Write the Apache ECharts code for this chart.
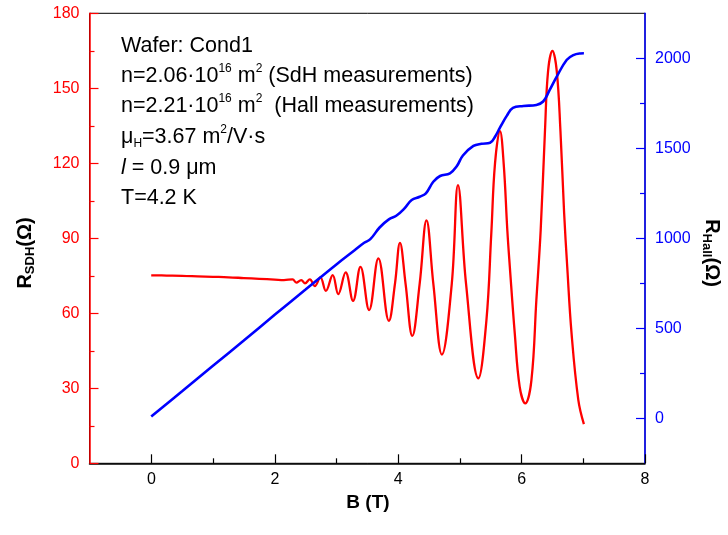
<!DOCTYPE html>
<html>
<head>
<meta charset="utf-8">
<script src="https://cdn.jsdelivr.net/npm/echarts@6/dist/echarts.min.js"></script>
<style>
html, body { margin: 0; padding: 0; background: #fff; }
#chart { width: 728px; height: 535px; }
</style>
</head>
<body>
<div id="chart"></div>
<script>
// SdH resistance (Ohm) vs B (T)
const sdhB = [0, 0.25, 0.5, 0.75, 1.0, 1.25, 1.5, 1.75, 2.0, 2.15,
  2.29, 2.35, 2.43, 2.49, 2.57, 2.65, 2.74, 2.83, 2.94, 3.03, 3.15, 3.27, 3.39, 3.53, 3.68, 3.85,
  3.95, 4.03, 4.12, 4.23, 4.35, 4.46, 4.57, 4.71, 4.87, 4.97, 5.10, 5.30,
  5.43, 5.51, 5.57, 5.65, 5.71, 5.77, 5.81, 5.89, 5.97, 6.06,
  6.16, 6.24, 6.31, 6.38, 6.43, 6.50, 6.57, 6.63, 6.69, 6.74, 6.81, 6.92, 7.01];
const sdhR = [75.2, 75.1, 75.0, 74.8, 74.6, 74.4, 74.1, 73.8, 73.5, 73.3,
  73.6, 72.3, 73.3, 72.0, 73.6, 70.9, 74.4, 69.0, 75.3, 67.7, 76.4, 65.0, 78.6, 61.3, 82.0, 57.0,
  72, 88.2, 72, 51.0, 72, 97.2, 72, 43.5, 72, 111.3, 72, 34.0,
  57, 92, 120, 132.9, 120, 93, 78.6, 52, 30.6, 24.0,
  33.3, 65.3, 93.3, 133.3, 157, 165, 157, 133, 100, 78.6, 52, 25.3, 15.7];

// Hall resistance (Ohm) vs B (T)
const hallB = [0, 0.5, 1.0, 1.5, 2.0, 2.5, 3.0, 3.3, 3.45, 3.55, 3.7, 3.85, 3.97, 4.1, 4.22, 4.35, 4.45,
  4.57, 4.68, 4.84, 4.95, 5.05, 5.22, 5.35, 5.49, 5.58, 5.65, 5.76, 5.86, 6.03, 6.24, 6.35, 6.45,
  6.57, 6.73, 6.84, 6.95, 7.01];
const hallR = [10, 150, 292, 432, 575, 715, 855, 935, 975, 995, 1060, 1105, 1125, 1165, 1213, 1231, 1250,
  1314, 1346, 1361, 1400, 1460, 1513, 1525, 1531, 1570, 1615, 1680, 1725, 1735, 1741, 1760, 1820,
  1898, 1991, 2018, 2027, 2028];

const xTicks = [0, 2, 4, 6, 8];
const leftTicks = [0, 30, 60, 90, 120, 150, 180];
const rightTicks = [0, 500, 1000, 1500, 2000];

const FONT = 'Liberation Sans, Arial, sans-serif';
const RED = '#ff0000';
const BLUE = '#0000ff';

const chart = echarts.init(document.getElementById('chart'));

const annRich = {
  t: { fontSize: 21.5, fontFamily: FONT, color: '#000', lineHeight: 26 },
  it: { fontSize: 21.5, fontFamily: FONT, color: '#000', lineHeight: 26, fontStyle: 'italic' },
  sup: { fontSize: 12, fontFamily: FONT, color: '#000', lineHeight: 14, verticalAlign: 'top' },
  sub: { fontSize: 12, fontFamily: FONT, color: '#000', lineHeight: 6, verticalAlign: 'bottom' }
};
const annLines = [
  ['{t|Wafer: Cond1}', 46.3],
  ['{t|n=2.06·10}{sup|16}{t| m}{sup|2}{t| (SdH measurements)}', 76],
  ['{t|n=2.21·10}{sup|16}{t| m}{sup|2}{t|  (Hall measurements)}', 106],
  ['{t|μ}{sub|H}{t|=3.67 m}{sup|2}{t|/V·s}', 136.7],
  ['{it|l}{t| = 0.9 μm}', 168],
  ['{t|T=4.2 K}', 198.5]
];

chart.setOption({
  animation: false,
  backgroundColor: '#fff',
  textStyle: { fontFamily: FONT },
  grid: [
    { left: 89.5, right: 83, top: 13.3, bottom: 71.7, show: true, borderColor: '#000', borderWidth: 1, backgroundColor: 'transparent' },
    { left: 151.5, right: 83, top: 58.3, bottom: 116.7 }
  ],
  xAxis: [
    {
      type: 'value', gridIndex: 0, min: -1, max: 8,
      axisLine: { show: true, onZero: false, lineStyle: { color: '#000', width: 1.5 } },
      axisTick: { show: false }, axisLabel: { show: false }, splitLine: { show: false }
    },
    {
      type: 'value', gridIndex: 1, min: 0, max: 8, interval: 2, offset: 45,
      axisLine: { show: false, onZero: false },
      axisTick: { show: true, inside: true, length: 9, lineStyle: { color: '#000', width: 1.2 } },
      minorTick: { show: true, splitNumber: 2, length: 5, lineStyle: { color: '#000', width: 1.2 } },
      axisLabel: {
        color: '#000', fontSize: 16, margin: 8, fontFamily: FONT,
        formatter: v => xTicks.includes(v) ? String(v) : ''
      },
      splitLine: { show: false }, minorSplitLine: { show: false }
    }
  ],
  yAxis: [
    {
      type: 'value', gridIndex: 0, position: 'left', min: 0, max: 180, interval: 30,
      axisLine: { show: true, onZero: false, lineStyle: { color: RED, width: 1.5 } },
      axisTick: { show: true, inside: true, length: 9, lineStyle: { color: RED, width: 1.2 } },
      minorTick: { show: true, splitNumber: 2, length: 5, lineStyle: { color: RED, width: 1.2 } },
      axisLabel: {
        color: RED, fontSize: 16, margin: 10, fontFamily: FONT,
        formatter: v => leftTicks.includes(v) ? String(v) : ''
      },
      splitLine: { show: false }
    },
    {
      type: 'value', gridIndex: 0, position: 'right', min: -250, max: 2250,
      axisLine: { show: true, onZero: false, lineStyle: { color: BLUE, width: 1.5 } },
      axisTick: { show: false }, axisLabel: { show: false }, splitLine: { show: false }
    },
    {
      type: 'value', gridIndex: 1, position: 'right', min: 0, max: 2000, interval: 500,
      axisLine: { show: false, onZero: false },
      axisTick: { show: true, inside: true, length: 9, lineStyle: { color: BLUE, width: 1.2 } },
      minorTick: { show: true, splitNumber: 2, length: 5, lineStyle: { color: BLUE, width: 1.2 } },
      axisLabel: {
        color: BLUE, fontSize: 16, margin: 10, fontFamily: FONT,
        formatter: v => rightTicks.includes(v) ? String(v) : ''
      },
      splitLine: { show: false }, minorSplitLine: { show: false }
    }
  ],
  series: [
    {
      type: 'line', xAxisIndex: 0, yAxisIndex: 0,
      data: sdhB.map((b, i) => [b, sdhR[i]]),
      smooth: 0.4, showSymbol: false,
      lineStyle: { color: RED, width: 2.3 }
    },
    {
      type: 'line', xAxisIndex: 0, yAxisIndex: 1,
      data: hallB.map((b, i) => [b, hallR[i]]),
      smooth: 0.4, showSymbol: false,
      lineStyle: { color: BLUE, width: 2.6 }
    }
  ],
  graphic: annLines.map(([txt, y]) => ({
    type: 'text', x: 121, y: y,
    style: { text: txt, rich: annRich, align: 'left', verticalAlign: 'middle' }
  })).concat([
    {
      type: 'text', x: 368, y: 503,
      style: { text: 'B (T)', fill: '#000', font: 'bold 19px ' + FONT, align: 'center', verticalAlign: 'middle' }
    },
    {
      type: 'text', x: 25, y: 253, rotation: Math.PI / 2,
      style: {
        text: '{b|R}{s|SDH}{b|(Ω)}', align: 'center', verticalAlign: 'middle',
        rich: {
          b: { fontSize: 20, fontWeight: 'bold', fontFamily: FONT, color: RED, lineHeight: 24 },
          s: { fontSize: 13, fontWeight: 'bold', fontFamily: FONT, color: RED, lineHeight: 6, verticalAlign: 'bottom' }
        }
      }
    },
    {
      type: 'text', x: 712, y: 253, rotation: -Math.PI / 2,
      style: {
        text: '{b|R}{s|Hall}{b|(Ω)}', align: 'center', verticalAlign: 'middle',
        rich: {
          b: { fontSize: 20, fontWeight: 'bold', fontFamily: FONT, color: BLUE, lineHeight: 24 },
          s: { fontSize: 13, fontWeight: 'bold', fontFamily: FONT, color: BLUE, lineHeight: 6, verticalAlign: 'bottom' }
        }
      }
    }
  ])
});
</script>
</body>
</html>
